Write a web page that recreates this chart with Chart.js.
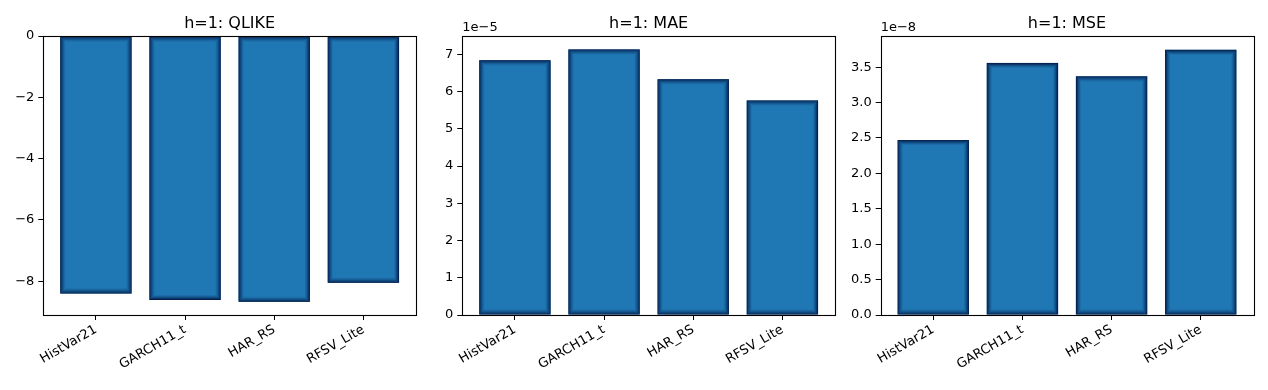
<!DOCTYPE html>
<html>
<head>
<meta charset="utf-8">
<script src="https://cdn.jsdelivr.net/npm/chart.js@4"></script>
<style>
  html, body { margin: 0; padding: 0; background: #fff; }
  body { width: 1268px; height: 390px; position: relative; overflow: hidden; }
  .panel { position: absolute; top: 0; height: 390px; }
</style>
</head>
<body>
<div class="panel" id="p1" style="left:0;width:420px"><canvas id="c1"></canvas></div>
<div class="panel" id="p2" style="left:420px;width:420px"><canvas id="c2"></canvas></div>
<div class="panel" id="p3" style="left:840px;width:428px"><canvas id="c3"></canvas></div>
<script>
// models on the x axis
const models = ["HistVar21", "GARCH11_t", "HAR_RS", "RFSV_Lite"];

// h=1 losses
const qlikeValues = [-8.40, -8.61, -8.67, -8.05];
const maeValues = [6.84e-5, 7.13e-5, 6.33e-5, 5.76e-5];
const mseValues = [2.47e-8, 3.56e-8, 3.37e-8, 3.745e-8];

// tick labels
const qlikeTicks = [-8, -6, -4, -2, 0];
const maeTicks = [0, 1, 2, 3, 4, 5, 6, 7];
const mseTicks = [0, 0.5, 1.0, 1.5, 2.0, 2.5, 3.0, 3.5];

const FONT = "'DejaVu Sans', sans-serif";
Chart.defaults.font.family = FONT;
Chart.defaults.color = "#000";

// matplotlib-ish box + offset text + shaded bar edges
const boxPlugin = {
  id: "box",
  afterDatasetsDraw(chart) {
    const ctx = chart.ctx;
    const meta = chart.getDatasetMeta(0);
    const alphas = [0.95, 0.7, 0.45, 0.25, 0.1];
    meta.data.forEach(bar => {
      const p = bar.getProps(["x", "y", "base", "width"], true);
      const l = p.x - p.width / 2, r = p.x + p.width / 2;
      const t = Math.min(p.y, p.base), b = Math.max(p.y, p.base);
      ctx.save();
      alphas.forEach((a, i) => {
        ctx.strokeStyle = "rgba(3,25,70," + a + ")";
        ctx.lineWidth = 1;
        ctx.strokeRect(l + i + 0.5, t + i + 0.5, r - l - 2 * i - 1, b - t - 2 * i - 1);
      });
      ctx.restore();
    });
  },
  afterDraw(chart, args, opts) {
    const ctx = chart.ctx;
    const a = chart.chartArea;
    ctx.save();
    ctx.strokeStyle = "#000";
    ctx.lineWidth = 1.1;
    ctx.strokeRect(Math.round(a.left) + 0.5, Math.round(a.top) + 0.5,
      Math.round(a.right - a.left), Math.round(a.bottom - a.top));
    if (opts.offsetText) {
      ctx.fillStyle = "#000";
      ctx.font = "13px " + FONT;
      ctx.textAlign = "left";
      ctx.textBaseline = "alphabetic";
      ctx.fillText(opts.offsetText, a.left, a.top - 5);
    }
    ctx.restore();
  }
};

function makeChart(id, title, values, ticks, yMin, yMax, scale, digits, yWidth, padRight, offsetText) {
  new Chart(document.getElementById(id), {
    type: "bar",
    data: {
      datasets: [{
        data: values.map((v, i) => ({ x: i, y: v })),
        backgroundColor: "#1f77b4",
        borderWidth: 0,
        categoryPercentage: 1.0,
        barPercentage: 0.8
      }]
    },
    options: {
      responsive: true,
      maintainAspectRatio: false,
      animation: false,
      layout: { padding: { left: 0, right: padRight, top: 0, bottom: 0 } },
      plugins: {
        legend: { display: false },
        tooltip: { enabled: false },
        title: {
          display: true,
          fullSize: false,
          text: title,
          font: { size: 16, weight: "normal" },
          color: "#000",
          padding: { top: 14, bottom: 2.8 }
        },
        box: { offsetText: offsetText }
      },
      scales: {
        x: {
          type: "linear",
          offset: false,
          min: -0.59,
          max: 3.59,
          grid: { display: true, offset: false, drawOnChartArea: false, drawTicks: true, tickLength: 5, color: "#000" },
          border: { display: false },
          ticks: {
            font: { size: 13 },
            color: "#000",
            minRotation: 30,
            maxRotation: 30,
            padding: 2,
            autoSkip: false,
            callback: v => models[v]
          },
          afterBuildTicks: s => { s.ticks = models.map((m, i) => ({ value: i })); },
          afterFit: s => { s.height = 75; s.paddingLeft = 0; s.paddingRight = 0; }
        },
        y: {
          min: yMin,
          max: yMax,
          grid: { display: true, drawOnChartArea: false, drawTicks: true, tickLength: 5, color: "#000" },
          border: { display: false },
          ticks: {
            font: { size: 13 },
            color: "#000",
            padding: 4,
            callback: v => (v / scale).toFixed(digits).replace("-", "\u2212")
          },
          afterBuildTicks: s => { s.ticks = ticks.map(t => ({ value: t * scale })); },
          afterFit: s => { s.width = yWidth; s.paddingTop = 0; s.paddingBottom = 0; }
        }
      }
    },
    plugins: [boxPlugin]
  });
}

makeChart("c1", "h=1: QLIKE", qlikeValues, qlikeTicks, -9.1, 0, 1, 0, 43.3, 4, null);
makeChart("c2", "h=1: MAE", maeValues, maeTicks, 0, 7.49e-5, 1e-5, 0, 42.3, 5, "1e\u22125");
makeChart("c3", "h=1: MSE", mseValues, mseTicks, 0, 3.94e-8, 1e-8, 1, 40.7, 14.7, "1e\u22128");
</script>
</body>
</html>
